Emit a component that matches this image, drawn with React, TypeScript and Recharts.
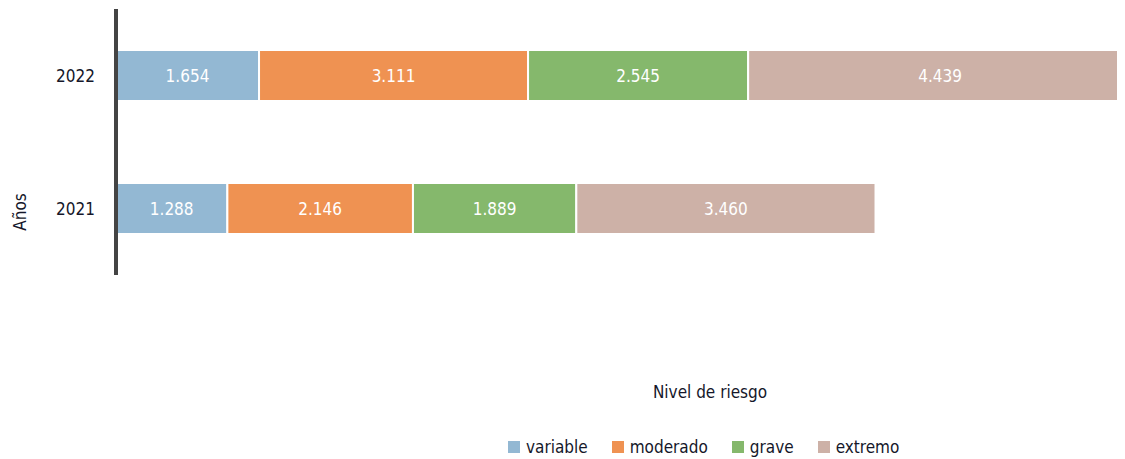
import { BarChart, Bar, XAxis, YAxis, Legend, LabelList, Label } from 'recharts';

const FONT = "'DejaVu Sans Condensed', 'Liberation Sans Narrow', sans-serif";

// Años (categorías del eje vertical)
const years = ['2022', '2021'];

// valores por nivel de riesgo
const variable = [1654, 1288];
const moderado = [3111, 2146];
const grave = [2545, 1889];
const extremo = [4439, 3460];

const seriesKeys = ['variable', 'moderado', 'grave', 'extremo'];
const seriesColors = ['#93B8D3', '#EF9252', '#85B86C', '#CDB1A7'];

const data = years.map((year, i) => ({
  year,
  variable: variable[i],
  moderado: moderado[i],
  grave: grave[i],
  extremo: extremo[i],
}));

const maxTotal = Math.max(...years.map((_, i) => variable[i] + moderado[i] + grave[i] + extremo[i]));

// 1654 -> "1.654"
const fmt = (v: any) => String(v).replace(/\B(?=(\d{3})+(?!\d))/g, '.');

function LegendContent() {
  return (
    <div
      style={{
        display: 'flex',
        alignItems: 'center',
        paddingLeft: 500,
        height: 24,
        fontFamily: FONT,
        fontSize: 17,
        color: '#15172a',
      }}
    >
      {seriesKeys.map((k, i) => (
        <div key={k} style={{ display: 'flex', alignItems: 'center', marginRight: 24 }}>
          <span
            style={{
              display: 'inline-block',
              width: 12,
              height: 12,
              background: seriesColors[i],
              marginRight: 6,
            }}
          />
          <span>{k}</span>
        </div>
      ))}
    </div>
  );
}

export default function App() {
  return (
    <div style={{ width: 1117, height: 451 }}>
      <BarChart
        width={1117}
        height={451}
        data={data}
        layout="vertical"
        margin={{ top: 1, right: -7, left: 0, bottom: 0 }}
        style={{ fontFamily: FONT, overflow: 'visible' }}
      >
        <XAxis
          type="number"
          domain={[0, maxTotal]}
          allowDataOverflow
          tickCount={2}
          tick={false}
          axisLine={false}
          tickLine={false}
          height={160}
        >
          <Label
            content={({ viewBox }: any) => (
              <text
                x={702}
                y={viewBox.y + 117}
                textAnchor="middle"
                dominantBaseline="central"
                fontFamily={FONT}
                fontSize={17}
                fill="#15172a"
              >
                Nivel de riesgo
              </text>
            )}
          />
        </XAxis>
        <YAxis
          type="category"
          dataKey="year"
          width={108}
          tickLine={false}
          tickMargin={15}
          axisLine={{ stroke: '#444', strokeWidth: 4 }}
          tick={{ fill: '#15172a', fontSize: 17, fontFamily: FONT }}
        >
          <Label
            content={({ viewBox }: any) => (
              <text
                x={viewBox.x + 12}
                y={viewBox.y + 203}
                transform={`rotate(-90, ${viewBox.x + 12}, ${viewBox.y + 203})`}
                textAnchor="middle"
                dominantBaseline="central"
                fontFamily={FONT}
                fontSize={17}
                fill="#15172a"
              >
                Años
              </text>
            )}
          />
        </YAxis>
        <Legend verticalAlign="bottom" content={<LegendContent />} wrapperStyle={{ left: 0, width: 1117 }} />
        {seriesKeys.map((k, i) => (
          <Bar
            key={k}
            dataKey={k}
            stackId="a"
            fill={seriesColors[i]}
            stroke="#fff"
            strokeWidth={2}
            barSize={51}
            isAnimationActive={false}
          >
            <LabelList
              dataKey={k}
              position="center"
              formatter={fmt}
              fill="#fff"
              fontSize={17}
              fontFamily={FONT}
            />
          </Bar>
        ))}
      </BarChart>
    </div>
  );
}
